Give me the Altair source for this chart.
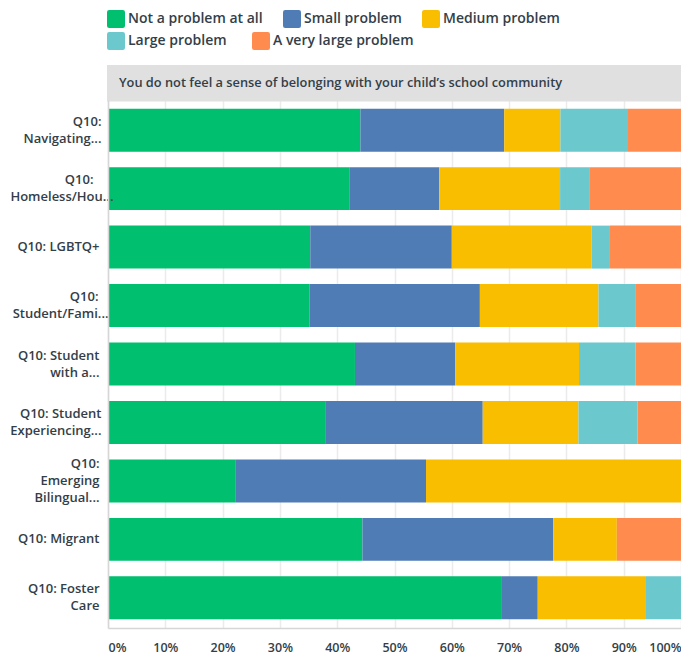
import altair as alt
import pandas as pd

BLANK = "\u2800"
categories = [
    "Q10:|Navigating...",
    "Q10:" + BLANK * 2 + "|Homeless/Hou...",
    "Q10: LGBTQ+",
    "Q10:" + BLANK + "|Student/Fami...",
    "Q10: Student|with a...",
    "Q10: Student|Experiencing...",
    "Q10:|Emerging|Bilingual...",
    "Q10: Migrant",
    "Q10: Foster|Care",
]
responses = [
    "Not a problem at all",
    "Small problem",
    "Medium problem",
    "Large problem",
    "A very large problem",
]
colors = ["#00BF6F", "#507CB6", "#F9BE00", "#6BC8CD", "#FF8B4F"]

not_a_problem = [44.05, 42.2, 35.3, 35.2, 43.1, 37.9, 22.2, 44.4, 68.75]
small_problem = [25.1, 15.6, 24.7, 29.7, 17.5, 27.5, 33.3, 33.3, 6.25]
medium_problem = [9.8, 21.1, 24.4, 20.7, 21.6, 16.7, 44.5, 11.1, 18.75]
large_problem = [11.8, 5.2, 3.2, 6.4, 9.9, 10.3, 0.0, 0.0, 6.25]
very_large_problem = [9.25, 15.9, 12.4, 8.0, 7.9, 7.6, 0.0, 11.2, 0.0]

header_text = "You do not feel a sense of belonging with your child\u2019s school community"
x_ticks = [0, 10, 20, 30, 40, 50, 60, 70, 80, 90, 100]

series = [not_a_problem, small_problem, medium_problem, large_problem, very_large_problem]
rows = []
for si, (resp, vals) in enumerate(zip(responses, series)):
    for cat, v in zip(categories, vals):
        rows.append({"category": cat, "response": resp, "value": v, "idx": si})
df = pd.DataFrame(rows)

TEXT = "#333e48"
FONT = "Open Sans"
W, H = 573, 528
LH = 17
ROUNDED = "M-1,-0.75Q-1,-1,-0.75,-1L0.75,-1Q1,-1,1,-0.75L1,0.75Q1,1,0.75,1L-0.75,1Q-1,1,-1,0.75Z"

legend_common = dict(
    title=None,
    orient="none",
    direction="horizontal",
    columns=3,
    symbolType=ROUNDED,
    symbolSize=324,
    symbolStrokeWidth=0,
    symbolOpacity=1,
    labelOffset=3,
    labelFont=FONT,
    labelFontSize=14,
    labelFontWeight=600,
    labelColor=TEXT,
    labelLimit=300,
)

bars = alt.Chart(df).mark_bar(strokeWidth=0).encode(
    y=alt.Y(
        "category:N",
        sort=categories,
        scale=alt.Scale(paddingInner=0.265, paddingOuter=0.149),
        axis=alt.Axis(
            title=None,
            labelExpr="split(datum.label, '|')",
            labelFont=FONT,
            labelFontSize=13,
            labelFontWeight=600,
            labelColor=TEXT,
            labelLimit=200,
            labelPadding={
                "condition": [
                    {"test": "indexof(datum.value, 'Homeless') >= 0", "value": -5},
                    {"test": "indexof(datum.value, 'Student/Fami') >= 0", "value": 0},
                    {"test": "indexof(datum.value, 'Experiencing') >= 0", "value": 7},
                    {"test": "indexof(datum.value, 'Navigating') >= 0", "value": 7},
                ],
                "value": 9,
            },
            labelOffset={
                "condition": [
                    {"test": "length(split(datum.value, '|')) == 3", "value": -LH},
                    {"test": "length(split(datum.value, '|')) == 2", "value": -LH / 2},
                ],
                "value": 0,
            },
            labelLineHeight=LH,
            ticks=False,
            grid=False,
            domainColor="#d6d6d6",
            domainWidth=1.5,
            zindex=1,
        ),
    ),
    x=alt.X(
        "value:Q",
        stack="zero",
        scale=alt.Scale(domain=[0, 100], nice=False),
        axis=alt.Axis(
            title=None,
            values=x_ticks,
            labelExpr="datum.value + '%'",
            labelFont=FONT,
            labelFontSize=12.5,
            labelFontWeight=600,
            labelColor=TEXT,
            labelFlush=True,
            labelPadding=13,
            ticks=False,
            grid=True,
            gridColor="#ebebeb",
            gridWidth=1.5,
            domainColor="#d6d6d6",
            domainWidth=1.5,
        ),
    ),
    color=alt.Color(
        "response:N",
        scale=alt.Scale(domain=responses, range=colors),
        legend=alt.Legend(
            values=responses[:3], legendX=-1, legendY=-90, columnPadding=20, **legend_common
        ),
    ),
    order=alt.Order("idx:Q", sort="ascending"),
)

legend_df = pd.DataFrame({"response": responses[3:]})
second_legend = alt.Chart(legend_df).mark_point(size=0, filled=True, strokeWidth=0).encode(
    fill=alt.Fill(
        "response:N",
        scale=alt.Scale(domain=responses[3:], range=colors[3:]),
        legend=alt.Legend(legendX=-1, legendY=-68, columnPadding=25, **legend_common),
    )
)

one = alt.Data(values=[{"k": 1}])
header_bg = alt.Chart(one).mark_rect(color="#e0e0e0").encode(
    x=alt.value(-1), x2=alt.value(W), y=alt.value(-35), y2=alt.value(1.5)
)
header_label = alt.Chart(one).mark_text(
    align="left", baseline="alphabetic", font=FONT, fontSize=12.8, fontWeight=600, color=TEXT
).encode(x=alt.value(11), y=alt.value(-13), text=alt.value(header_text))

chart = (
    alt.layer(bars, second_legend, header_bg, header_label)
    .resolve_scale(color="independent", fill="independent")
    .properties(
        width=W,
        height=H,
        autosize=alt.AutoSizeParams(type="none"),
        padding={"left": 100, "top": 92, "right": 0, "bottom": 30},
    )
    .configure_view(stroke=None)
)

chart.save("out.html", embed_options={"renderer": "svg", "actions": False})
